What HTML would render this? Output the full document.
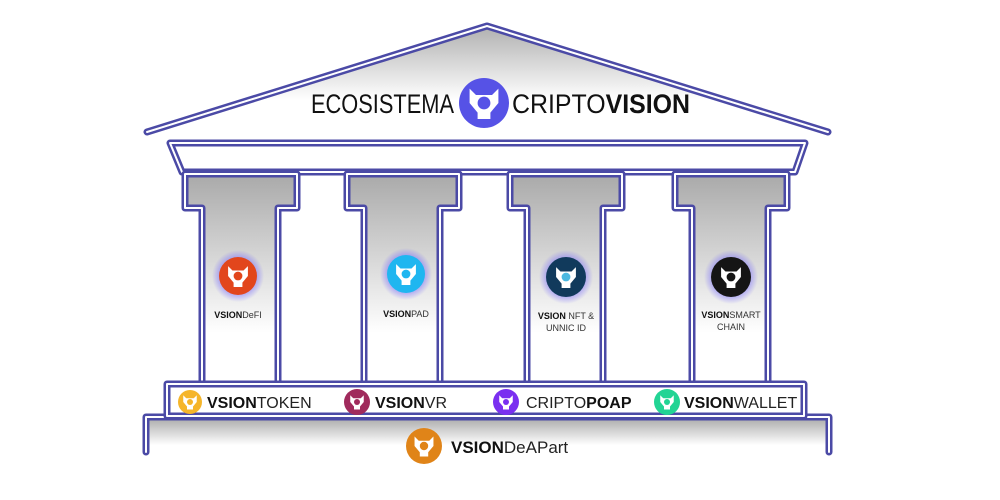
<!DOCTYPE html>
<html><head><meta charset="utf-8"><style>
html,body{margin:0;padding:0;background:#fff;}
svg{display:block;}
text{font-family:"Liberation Sans",sans-serif;}
</style></head><body>
<svg width="1000" height="500" viewBox="0 0 1000 500" xmlns="http://www.w3.org/2000/svg">
<defs>
<linearGradient id="g1" x1="0" y1="0" x2="0" y2="1"><stop offset="0" stop-color="#a9a9a9"/><stop offset="0.75" stop-color="#fff"/></linearGradient>
<linearGradient id="gr" x1="0" y1="0" x2="0" y2="1"><stop offset="0" stop-color="#b0b0b0"/><stop offset="0.7" stop-color="#fff"/></linearGradient>
<linearGradient id="gb" x1="0" y1="0" x2="0" y2="1"><stop offset="0" stop-color="#a8a8a8"/><stop offset="0.8" stop-color="#fff"/></linearGradient>
<radialGradient id="glow"><stop offset="0.6" stop-color="#6a5cff" stop-opacity="0.6"/><stop offset="1" stop-color="#6a5cff" stop-opacity="0"/></radialGradient>
<g id="fox">
<path d="M-9,-9 L-5,-5 L5,-5 L9,-9 L9,0 L4,6 L4,10 L-4,10 L-4,6 L-9,0 Z" fill="#fff"/>
<circle cx="0" cy="0" r="4" fill="currentColor"/>
</g>
</defs>
<g fill="none" stroke-linejoin="round" stroke-linecap="round">
<!-- roof -->
<path d="M147,132 L487,26 L828,132 Z" fill="url(#gr)" stroke="none"/>
<path d="M147,132 L487,26 L828,132" stroke="#4b4aa6" stroke-width="7"/>
<path d="M147,132 L487,26 L828,132" stroke="#fff" stroke-width="2"/>
<!-- entablature -->
<path d="M170,143 L805,143 L795,172 L182,172 Z" fill="#fff" stroke="#4b4aa6" stroke-width="7"/>
<path d="M170,143 L805,143 L795,172 L182,172 Z" stroke="#fff" stroke-width="2"/>
<!-- pillars -->
<g id="p1">
<path d="M185,174 H297 V208 H278 V386 H202 V208 H185 Z" fill="url(#g1)" stroke="#4b4aa6" stroke-width="7"/>
<path d="M185,174 H297 V208 H278 V386 H202 V208 H185 Z" stroke="#fff" stroke-width="2"/>
</g>
<use href="#p1" x="162"/>
<use href="#p1" x="325"/>
<use href="#p1" x="490"/>
<!-- base -->
<path d="M146,452 V417 H829 V452 Z" fill="url(#gb)" stroke="none"/>
<path d="M146,452 V417 H829 V452" stroke="#4b4aa6" stroke-width="7"/>
<path d="M146,452 V417 H829 V452" stroke="#fff" stroke-width="2"/>
<!-- band -->
<rect x="167" y="384" width="637" height="32" fill="#fff" stroke="#4b4aa6" stroke-width="7"/>
<rect x="167" y="384" width="637" height="32" stroke="#fff" stroke-width="2"/>
</g>
<!-- top title -->
<text x="454" y="113" font-size="27" text-anchor="end" fill="#111" textLength="143" lengthAdjust="spacingAndGlyphs">ECOSISTEMA</text>
<ellipse cx="484" cy="103" rx="25" ry="25" fill="#5652e6"/>
<use href="#fox" transform="translate(484,103) scale(1.6)" color="#5652e6"/>
<text x="512" y="113" font-size="27" fill="#111" textLength="178" lengthAdjust="spacingAndGlyphs">CRIPTO<tspan font-weight="bold">VISION</tspan></text>
<!-- pillar icons -->
<circle cx="238" cy="276" r="26" fill="url(#glow)"/><circle cx="238" cy="276" r="19" fill="#e2461c"/><use href="#fox" transform="translate(238,276) scale(1.1)" color="#e2461c"/>
<circle cx="406" cy="274" r="26" fill="url(#glow)"/><circle cx="406" cy="274" r="19" fill="#1fb6f0"/><use href="#fox" transform="translate(406,274) scale(1.1)" color="#1fb6f0"/>
<circle cx="566" cy="277" r="27" fill="url(#glow)"/><circle cx="566" cy="277" r="20" fill="#113a5c"/><use href="#fox" transform="translate(566,277) scale(1.1)" color="#4ab8e0"/>
<circle cx="731" cy="277" r="27" fill="url(#glow)"/><circle cx="731" cy="277" r="20" fill="#151515"/><use href="#fox" transform="translate(731,277) scale(1.1)" color="#151515"/>
<g font-size="9" fill="#333" text-anchor="middle">
<text x="238" y="318"><tspan font-weight="bold" fill="#111">VSION</tspan>DeFI</text>
<text x="406" y="317"><tspan font-weight="bold" fill="#111">VSION</tspan>PAD</text>
<text x="566" y="319"><tspan font-weight="bold" fill="#111">VSION</tspan> NFT &amp;</text>
<text x="566" y="331">UNNIC ID</text>
<text x="731" y="318"><tspan font-weight="bold" fill="#111">VSION</tspan>SMART</text>
<text x="731" y="330">CHAIN</text>
</g>
<!-- band items -->
<circle cx="190" cy="402" r="12" fill="#f5b52a"/><use href="#fox" transform="translate(190,402) scale(0.75)" color="#f5b52a"/>
<text x="207" y="408" font-size="16" fill="#222"><tspan font-weight="bold" fill="#111">VSION</tspan>TOKEN</text>
<circle cx="357" cy="402" r="13" fill="#a02a5c"/><use href="#fox" transform="translate(357,402) scale(0.75)" color="#a02a5c"/>
<text x="375" y="408" font-size="16" fill="#222"><tspan font-weight="bold" fill="#111">VSION</tspan>VR</text>
<circle cx="506" cy="402" r="13" fill="#7a2ff0"/><use href="#fox" transform="translate(506,402) scale(0.75)" color="#7a2ff0"/>
<text x="526" y="408" font-size="16" fill="#222">CRIPTO<tspan font-weight="bold" fill="#111">POAP</tspan></text>
<circle cx="667" cy="402" r="13" fill="#22d494"/><use href="#fox" transform="translate(667,402) scale(0.75)" color="#22d494"/>
<text x="684" y="408" font-size="16" fill="#222"><tspan font-weight="bold" fill="#111">VSION</tspan>WALLET</text>
<!-- base item -->
<ellipse cx="424" cy="446" rx="18" ry="18" fill="#e08418"/><use href="#fox" transform="translate(424,446) scale(1.05)" color="#e08418"/>
<text x="451" y="453" font-size="17" fill="#222"><tspan font-weight="bold" fill="#111">VSION</tspan>DeAPart</text>
</svg>
</body></html>
